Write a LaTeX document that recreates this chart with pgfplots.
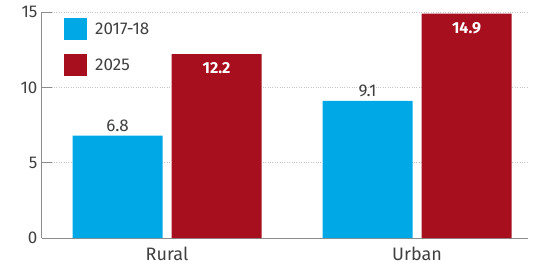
\documentclass[border=0pt]{standalone}
\usepackage{fontspec}
\setmainfont{Fira Sans}
\usepackage{pgfplots}
\pgfplotsset{compat=1.18}
\definecolor{cblue}{HTML}{00A9E6}
\definecolor{cred}{HTML}{A80F1E}
\definecolor{axgray}{HTML}{8C8C8C}
\definecolor{txtgray}{HTML}{404040}
\begin{document}
\begin{tikzpicture}
\begin{axis}[
  name=ax, scale only axis, width=486pt, height=226pt,
  /pgf/number format/assume math mode=true,
  xmin=-0.5, xmax=1.444, ymin=0, ymax=15,
  ybar=9pt, bar width=90pt,
  axis lines*=left,
  axis line style={axgray, line width=1pt},
  xtick={0,1}, xticklabels={Rural,Urban},
  x tick style={draw=none},
  extra x ticks={0.468,1.444}, extra x tick labels={},
  extra x tick style={tick style={draw=axgray, line width=0.6pt}, major tick length=4pt, tick align=inside, grid=none},
  ytick={0,5,10,15},
  y tick style={axgray, line width=1pt},
  major tick length=10pt, tick align=inside,
  ymajorgrids, grid style={axgray!50, dotted, line width=0.6pt},
  yticklabel style={font=\fontsize{17}{17}\selectfont, text=txtgray, xshift=-1pt},
  xticklabel style={font=\fontsize{18}{18}\selectfont, text=txtgray, yshift=-5pt},
  legend style={at={(0,1)}, xshift=22pt, yshift=-6pt, anchor=north west, draw=none, fill=none, inner sep=0pt,
    font=\fontsize{17}{17}\selectfont, text=txtgray, row sep=14pt, cells={anchor=west},
    /tikz/every even column/.append style={column sep=0pt}},
  legend image code/.code={\fill (0pt,-11pt) rectangle (23pt,11pt);},
  legend cell align=left,
  clip=false,
]
\addplot[fill=cblue, draw=none, nodes near coords,
  every node near coord/.append style={font=\fontsize{17}{17}\selectfont, text=txtgray, yshift=0pt}]
  coordinates {(0,6.8) (1,9.1)};
\addplot[fill=cred, draw=none, nodes near coords,
  every node near coord/.append style={font=\bfseries\fontsize{16}{16}\selectfont, text=white, anchor=north, yshift=-5pt}]
  coordinates {(0,12.2) (1,14.9)};
\legend{\hspace{6pt}2017-18,\hspace{6pt}2025}
\end{axis}
\path (ax.south west) ++(-42pt,-30pt) (ax.north east) ++(18pt,12pt);
\end{tikzpicture}
\end{document}
